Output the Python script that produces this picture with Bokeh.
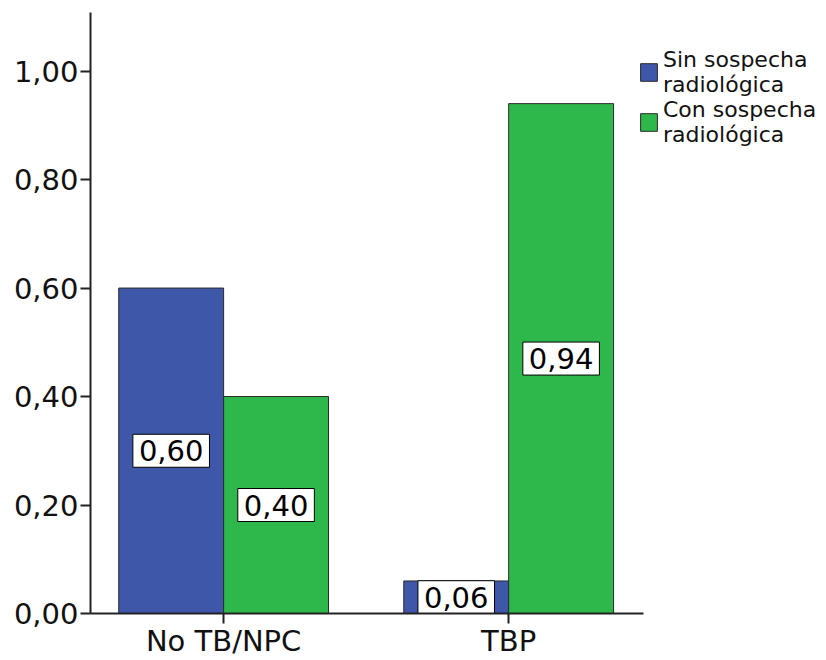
from bokeh.plotting import figure
from bokeh.models import (ColumnDataSource, FixedTicker, Legend,
                          LegendItem, Range1d)
from bokeh.core.properties import value
from bokeh.embed import file_html
from bokeh.resources import INLINE

# Proportion of cases by final diagnosis, split by radiological suspicion
categories = ["No TB/NPC", "TBP"]
sin_sospecha = [0.60, 0.06]
con_sospecha = [0.40, 0.94]
series_names = ["Sin sospecha\nradiológica", "Con sospecha\nradiológica"]
y_ticks = [0.0, 0.2, 0.4, 0.6, 0.8, 1.0]
y_tick_labels = ["0,00", "0,20", "0,40", "0,60", "0,80", "1,00"]

BLUE = "#3F57A9"
GREEN = "#2EB84B"
FONT = "DejaVu Sans"
BAR_W = 0.368

def fmt(v):
    return f"{v:.2f}".replace(".", ",")

centers = [i + 0.5 for i in range(len(categories))]

src_sin = ColumnDataSource(dict(
    x=[c - BAR_W / 2 for c in centers], top=sin_sospecha,
    mid=[v / 2 for v in sin_sospecha], label=[fmt(v) for v in sin_sospecha]))
src_con = ColumnDataSource(dict(
    x=[c + BAR_W / 2 for c in centers], top=con_sospecha,
    mid=[v / 2 for v in con_sospecha], label=[fmt(v) for v in con_sospecha]))

# The plotting area runs to the right edge so the legend can sit beside the
# bars; the x axis line itself is bounded to the bar region.
X_START, X_AXIS_END, X_END = 0.033, 1.974, 2.615

p = figure(width=826, height=660, output_backend="svg", toolbar_location=None,
           x_range=Range1d(X_START, X_END), y_range=Range1d(0, 1.108),
           min_border_left=90, min_border_right=0,
           min_border_top=12, min_border_bottom=46)
p.outline_line_color = None
p.xgrid.grid_line_color = None
p.ygrid.grid_line_color = None

r_sin = p.vbar(x="x", top="top", width=BAR_W, source=src_sin,
               fill_color=BLUE, line_color="#2a2a2a", line_width=1)
r_con = p.vbar(x="x", top="top", width=BAR_W, source=src_con,
               fill_color=GREEN, line_color="#2a2a2a", line_width=1)

# Value boxes centred at half of each bar's height
for src in (src_sin, src_con):
    p.text(x="x", y="mid", text="label", source=src,
           text_align="center", text_baseline="middle",
           text_font=value(FONT), text_font_size="29px", text_color="black",
           background_fill_color="white",
           border_line_color="black", border_line_width=1,
           padding=6)

# Axes
p.yaxis.ticker = FixedTicker(ticks=y_ticks)
p.yaxis.major_label_overrides = dict(zip(y_ticks, y_tick_labels))
p.xaxis.ticker = FixedTicker(ticks=centers)
p.xaxis.major_label_overrides = dict(zip(centers, categories))
p.xaxis.bounds = (X_START, X_AXIS_END)
for ax in (p.xaxis[0], p.yaxis[0]):
    ax.axis_line_color = "#222222"
    ax.axis_line_width = 2
    ax.major_tick_line_color = "#222222"
    ax.major_tick_line_width = 2
    ax.minor_tick_line_color = None
    ax.major_tick_in = 0
    ax.major_label_text_font = FONT
    ax.major_label_text_color = "#111111"
p.yaxis.major_label_text_font_size = "29px"
p.xaxis.major_label_text_font_size = "29px"
p.yaxis.major_tick_out = 10
p.yaxis.major_label_standoff = 2
p.xaxis.major_tick_out = 10
p.xaxis.major_label_standoff = 0

legend = Legend(items=[LegendItem(label=series_names[0], renderers=[r_sin]),
                       LegendItem(label=series_names[1], renderers=[r_con])],
                location=(548, 466), orientation="vertical",
                glyph_width=21, glyph_height=22, label_standoff=4,
                spacing=0, padding=0, margin=0,
                label_text_font=FONT, label_text_font_size="22px",
                label_text_line_height=0.78, label_text_color="#111111",
                border_line_color=None, background_fill_alpha=0)
p.add_layout(legend)

open("out.html", "w").write(file_html(p, INLINE))
